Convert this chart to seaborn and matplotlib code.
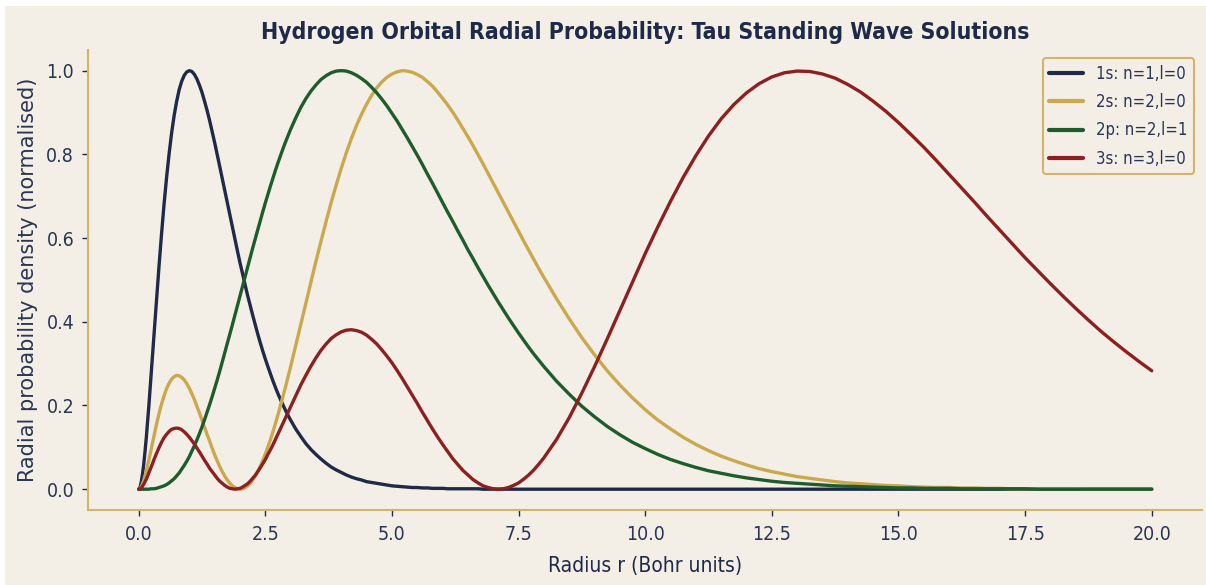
import matplotlib
matplotlib.use("Agg")
import matplotlib.pyplot as plt
import seaborn as sns
import pandas as pd
from matplotlib.patches import Rectangle

# radius samples (Bohr units)
radius = [
    0.0, 0.025, 0.05, 0.075, 0.1, 0.125, 0.15, 0.175,
    0.2, 0.25, 0.3, 0.35, 0.4, 0.45, 0.5, 0.55, 0.6, 0.65,
    0.7, 0.75, 0.8, 0.85, 0.9, 0.95, 1.0, 1.05, 1.1, 1.15,
    1.2, 1.25, 1.3, 1.35, 1.4, 1.45, 1.5, 1.55, 1.6, 1.65,
    1.7, 1.75, 1.8, 1.85, 1.9, 1.95, 2.0, 2.05, 2.1, 2.15,
    2.2, 2.25, 2.3, 2.35, 2.4, 2.45, 2.5, 2.55, 2.6, 2.65,
    2.7, 2.75, 2.8, 2.85, 2.9, 2.95,
    3.0, 3.1, 3.2, 3.3, 3.4, 3.5, 3.6, 3.7, 3.8, 3.9,
    4.0, 4.1, 4.2, 4.3, 4.4, 4.5, 4.6, 4.7, 4.8, 4.9,
    5.0, 5.1, 5.2, 5.3, 5.4, 5.5, 5.6, 5.7, 5.8, 5.9,
    6.0, 6.1, 6.2, 6.3, 6.4, 6.5, 6.6, 6.7, 6.8, 6.9,
    7.0, 7.1, 7.2, 7.3, 7.4, 7.5, 7.6, 7.7, 7.8, 7.9,
    8.0, 8.25, 8.5, 8.75, 9.0, 9.25, 9.5, 9.75, 10.0, 10.25,
    10.5, 10.75, 11.0, 11.25, 11.5, 11.75, 12.0, 12.25, 12.5, 12.75,
    13.0, 13.25, 13.5, 13.75, 14.0, 14.25, 14.5, 14.75, 15.0, 15.25,
    15.5, 15.75, 16.0, 16.25, 16.5, 16.75, 17.0, 17.25, 17.5, 17.75,
    18.0, 18.25, 18.5, 18.75, 19.0, 19.25, 19.5, 19.75, 20.0,
]

# normalised radial probability
p_1s = [
    0.000, 0.004, 0.017, 0.036, 0.060, 0.090, 0.123, 0.159,
    0.198, 0.280, 0.365, 0.449, 0.531, 0.608, 0.680, 0.744, 0.801, 0.851,
    0.893, 0.927, 0.955, 0.975, 0.989, 0.997, 1.000, 0.998, 0.991, 0.980,
    0.965, 0.948, 0.927, 0.905, 0.881, 0.855, 0.828, 0.800, 0.771, 0.742,
    0.713, 0.683, 0.654, 0.625, 0.597, 0.569, 0.541, 0.515, 0.489, 0.463,
    0.439, 0.416, 0.393, 0.371, 0.350, 0.330, 0.311, 0.293, 0.276, 0.259,
    0.243, 0.228, 0.214, 0.201, 0.188, 0.176,
    0.165, 0.144, 0.126, 0.109, 0.095, 0.083, 0.072, 0.062, 0.053, 0.046,
    0.040, 0.034, 0.029, 0.025, 0.022, 0.018, 0.016, 0.014, 0.012, 0.010,
    0.008, 0.007, 0.006, 0.005, 0.004, 0.004, 0.003, 0.003, 0.002, 0.002,
    0.002, 0.001, 0.001, 0.001, 0.001, 0.001, 0.001, 0.001, 0.000, 0.000,
    0.000, 0.000, 0.000, 0.000, 0.000, 0.000, 0.000, 0.000, 0.000, 0.000,
    0.000, 0.000, 0.000, 0.000, 0.000, 0.000, 0.000, 0.000, 0.000, 0.000,
    0.000, 0.000, 0.000, 0.000, 0.000, 0.000, 0.000, 0.000, 0.000, 0.000,
    0.000, 0.000, 0.000, 0.000, 0.000, 0.000, 0.000, 0.000, 0.000, 0.000,
    0.000, 0.000, 0.000, 0.000, 0.000, 0.000, 0.000, 0.000, 0.000, 0.000,
    0.000, 0.000, 0.000, 0.000, 0.000, 0.000, 0.000, 0.000, 0.000,
]
p_2s = [
    0.000, 0.002, 0.006, 0.013, 0.021, 0.032, 0.043, 0.056,
    0.069, 0.098, 0.126, 0.154, 0.180, 0.203, 0.223, 0.240, 0.253, 0.263,
    0.269, 0.272, 0.271, 0.267, 0.261, 0.252, 0.241, 0.228, 0.214, 0.198,
    0.182, 0.165, 0.148, 0.131, 0.115, 0.098, 0.082, 0.068, 0.054, 0.042,
    0.031, 0.022, 0.014, 0.008, 0.004, 0.001, 0.000, 0.001, 0.004, 0.008,
    0.014, 0.022, 0.031, 0.042, 0.055, 0.069, 0.084, 0.101, 0.118, 0.137,
    0.157, 0.178, 0.200, 0.222, 0.245, 0.269,
    0.293, 0.343, 0.393, 0.444, 0.495, 0.545, 0.593, 0.640, 0.685, 0.727,
    0.767, 0.804, 0.838, 0.869, 0.896, 0.920, 0.941, 0.959, 0.973, 0.984,
    0.992, 0.997, 1.000, 0.999, 0.996, 0.991, 0.984, 0.974, 0.963, 0.949,
    0.934, 0.918, 0.901, 0.882, 0.862, 0.842, 0.821, 0.799, 0.777, 0.754,
    0.731, 0.708, 0.685, 0.662, 0.639, 0.616, 0.593, 0.571, 0.549, 0.527,
    0.506, 0.455, 0.407, 0.362, 0.321, 0.283, 0.249, 0.218, 0.190, 0.165,
    0.144, 0.124, 0.107, 0.092, 0.079, 0.068, 0.058, 0.049, 0.042, 0.036,
    0.030, 0.026, 0.022, 0.018, 0.015, 0.013, 0.011, 0.009, 0.008, 0.006,
    0.005, 0.004, 0.004, 0.003, 0.003, 0.002, 0.002, 0.001, 0.001, 0.001,
    0.001, 0.001, 0.001, 0.000, 0.000, 0.000, 0.000, 0.000, 0.000,
]
p_2p = [
    0.000, 0.000, 0.000, 0.000, 0.000, 0.000, 0.000, 0.000,
    0.000, 0.001, 0.001, 0.002, 0.004, 0.006, 0.008, 0.011, 0.015, 0.020,
    0.025, 0.032, 0.039, 0.048, 0.057, 0.067, 0.078, 0.091, 0.104, 0.118,
    0.133, 0.149, 0.166, 0.184, 0.202, 0.221, 0.241, 0.261, 0.282, 0.304,
    0.325, 0.348, 0.370, 0.393, 0.416, 0.439, 0.462, 0.485, 0.508, 0.531,
    0.554, 0.576, 0.598, 0.620, 0.642, 0.663, 0.684, 0.704, 0.724, 0.743,
    0.762, 0.780, 0.797, 0.814, 0.830, 0.845,
    0.860, 0.887, 0.912, 0.933, 0.951, 0.966, 0.979, 0.988, 0.995, 0.999,
    1.000, 0.999, 0.995, 0.989, 0.981, 0.972, 0.960, 0.947, 0.932, 0.916,
    0.898, 0.880, 0.860, 0.840, 0.819, 0.798, 0.776, 0.753, 0.731, 0.708,
    0.685, 0.662, 0.640, 0.617, 0.595, 0.572, 0.551, 0.529, 0.508, 0.487,
    0.467, 0.447, 0.428, 0.409, 0.391, 0.373, 0.356, 0.339, 0.323, 0.308,
    0.293, 0.258, 0.227, 0.198, 0.173, 0.150, 0.130, 0.112, 0.097, 0.083,
    0.071, 0.061, 0.052, 0.044, 0.038, 0.032, 0.027, 0.023, 0.019, 0.016,
    0.014, 0.012, 0.010, 0.008, 0.007, 0.006, 0.005, 0.004, 0.003, 0.003,
    0.002, 0.002, 0.002, 0.001, 0.001, 0.001, 0.001, 0.001, 0.001, 0.000,
    0.000, 0.000, 0.000, 0.000, 0.000, 0.000, 0.000, 0.000, 0.000,
]
p_3s = [
    0.000, 0.001, 0.003, 0.007, 0.012, 0.018, 0.024, 0.031,
    0.039, 0.054, 0.070, 0.085, 0.099, 0.112, 0.123, 0.131, 0.138, 0.143,
    0.145, 0.146, 0.145, 0.142, 0.137, 0.131, 0.124, 0.116, 0.108, 0.098,
    0.089, 0.079, 0.069, 0.060, 0.050, 0.042, 0.034, 0.026, 0.019, 0.014,
    0.009, 0.005, 0.002, 0.001, 0.000, 0.001, 0.002, 0.005, 0.009, 0.013,
    0.019, 0.026, 0.033, 0.042, 0.051, 0.061, 0.071, 0.083, 0.094, 0.106,
    0.119, 0.132, 0.145, 0.158, 0.171, 0.184,
    0.197, 0.223, 0.249, 0.272, 0.294, 0.314, 0.332, 0.347, 0.360, 0.369,
    0.376, 0.380, 0.381, 0.379, 0.375, 0.368, 0.358, 0.347, 0.333, 0.318,
    0.302, 0.284, 0.265, 0.245, 0.225, 0.205, 0.184, 0.164, 0.144, 0.125,
    0.107, 0.090, 0.073, 0.059, 0.045, 0.034, 0.023, 0.015, 0.008, 0.004,
    0.001, 0.000, 0.001, 0.004, 0.009, 0.015, 0.024, 0.034, 0.046, 0.060,
    0.075, 0.119, 0.171, 0.230, 0.293, 0.359, 0.427, 0.495, 0.563, 0.627,
    0.688, 0.745, 0.797, 0.844, 0.885, 0.919, 0.947, 0.969, 0.985, 0.995,
    0.999, 0.998, 0.992, 0.982, 0.967, 0.949, 0.927, 0.903, 0.876, 0.847,
    0.817, 0.785, 0.752, 0.719, 0.686, 0.652, 0.619, 0.586, 0.553, 0.522,
    0.491, 0.461, 0.432, 0.404, 0.377, 0.352, 0.328, 0.305, 0.283,
]

labels = ["1s: n=1,l=0", "2s: n=2,l=0", "2p: n=2,l=1", "3s: n=3,l=0"]
colors = ["#1f2a48", "#c9a84e", "#1e5c2c", "#8c1f1f"]

bg = "#f4efe6"
gold = "#d4b46a"
ink = "#1f2a48"

rows = []
for lab, vals in zip(labels, [p_1s, p_2s, p_2p, p_3s]):
    for r, v in zip(radius, vals):
        rows.append({"r": r, "density": v, "orbital": lab})
df = pd.DataFrame(rows)

sns.set_style("white")
plt.rcParams["font.family"] = ["DejaVu Sans"]

fig, ax = plt.subplots(figsize=(12.06, 5.85), dpi=100)
fig.patch.set_facecolor("white")
fig.patches.append(Rectangle((5 / 1206, 0), 1, 1 - 6 / 585, transform=fig.transFigure,
                             facecolor=bg, edgecolor="none", zorder=-10))
fig.subplots_adjust(left=0.073, right=0.997, bottom=0.128, top=0.915)
ax.set_facecolor(bg)

sns.lineplot(data=df, x="r", y="density", hue="orbital", palette=colors,
             hue_order=labels, linewidth=2.4, estimator=None, sort=False, ax=ax)

sns.despine(ax=ax)
for side in ["left", "bottom"]:
    ax.spines[side].set_color(gold)
    ax.spines[side].set_linewidth(1.5)

ax.set_xticks([0, 2.5, 5, 7.5, 10, 12.5, 15, 17.5, 20])
ax.set_yticks([0.0, 0.2, 0.4, 0.6, 0.8, 1.0])
ax.tick_params(axis="both", colors=ink, length=4.5, width=1, labelsize=14,
               bottom=True, left=True)
ax.tick_params(axis="x", pad=6.5)
ax.tick_params(axis="y", pad=5.5)
for t in ax.get_xticklabels() + ax.get_yticklabels():
    t.set_fontstretch("condensed")
    t.set_color("#2a3553")

ax.set_xlabel("Radius r (Bohr units)", fontsize=15, color=ink,
              fontstretch="condensed", labelpad=8)
ax.set_ylabel("Radial probability density (normalised)", fontsize=15,
              color="#2a3553", labelpad=6)
ax.set_title("Hydrogen Orbital Radial Probability: Tau Standing Wave Solutions",
             fontsize=16.5, fontweight="bold", color=ink, pad=8, fontstretch="condensed")

leg = ax.legend(loc="upper right", frameon=True, facecolor=bg, edgecolor=gold,
                framealpha=1, labelspacing=0.62, handlelength=2.0,
                prop={"size": 12, "stretch": "condensed"})
leg.get_frame().set_linewidth(1.5)
for line in leg.get_lines():
    line.set_linewidth(3)
for t in leg.get_texts():
    t.set_color("#2a3553")

fig.savefig("out.png", dpi=100, facecolor=fig.get_facecolor())
